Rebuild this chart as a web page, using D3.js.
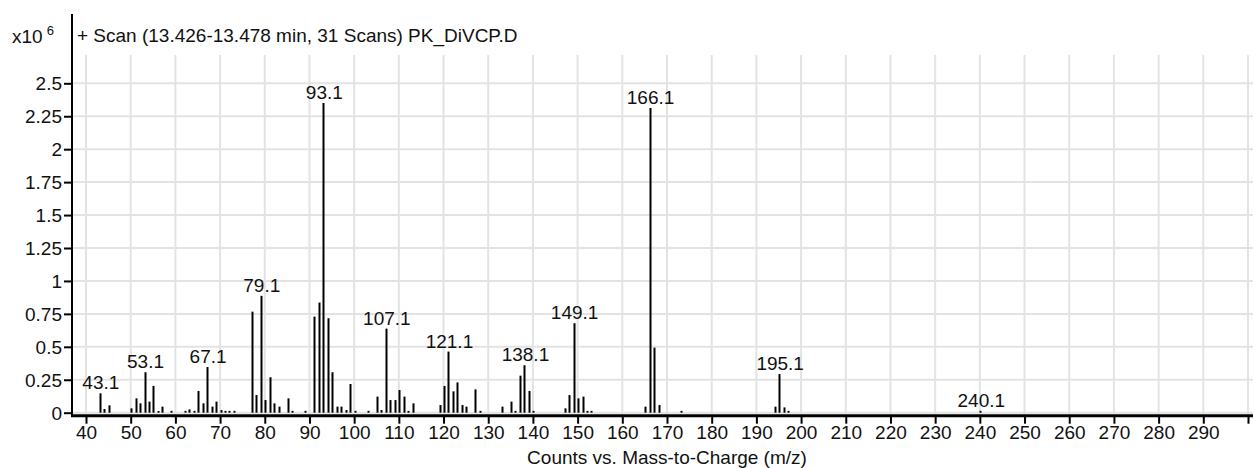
<!DOCTYPE html>
<html>
<head>
<meta charset="utf-8">
<script src="https://cdn.jsdelivr.net/npm/d3@7"></script>
<style>
  html, body { margin: 0; padding: 0; background: #fff; }
  svg { display: block; }
  text { font-family: "Liberation Sans", Arial, sans-serif; fill: #111; }
</style>
</head>
<body>
<svg id="chart" width="1253" height="468"></svg>
<script>
// m/z values of the spectrum peaks
const mz = [43.1,44.1,45.1,50.1,51.1,52.1,53.1,54.1,55.1,56.1,57.1,59.1,62.1,63.1,64.1,65.1,66.1,67.1,68.1,69.1,70.1,71.1,72.1,73.1,
  77.1,78.1,79.1,80.1,81.1,82.1,83.1,85.1,86.1,89.1,91.1,92.1,93.1,94.1,95.1,96.1,97.1,98.1,99.1,100.1,103.1,
  105.1,106.1,107.1,108.1,109.1,110.1,111.1,112.1,113.1,119.1,120.1,121.1,122.1,123.1,124.1,125.1,127.1,128.1,
  133.1,135.1,136.1,137.1,138.1,139.1,140.1,147.1,148.1,149.1,150.1,151.1,152.1,153.1,
  165.1,166.1,167.1,168.1,173.1,194.1,195.1,196.1,197.1,240.1];
// counts (x10^6)
const counts = [0.147,0.028,0.056,0.033,0.109,0.071,0.307,0.084,0.203,0.013,0.046,0.014,0.014,0.025,0.014,0.165,0.071,0.347,0.046,0.084,0.020,0.014,0.014,0.014,
  0.767,0.134,0.887,0.096,0.269,0.071,0.046,0.109,0.014,0.014,0.729,0.836,2.351,0.717,0.307,0.046,0.046,0.020,0.218,0.014,0.014,
  0.122,0.020,0.638,0.096,0.096,0.172,0.122,0.014,0.071,0.058,0.203,0.464,0.162,0.230,0.058,0.046,0.177,0.014,
  0.046,0.084,0.014,0.281,0.360,0.165,0.014,0.033,0.134,0.679,0.109,0.122,0.014,0.014,
  0.046,2.313,0.494,0.058,0.014,0.046,0.294,0.040,0.014,0.014];
// labelled peaks
const labelledPeaks = [43.1,53.1,67.1,79.1,93.1,107.1,121.1,138.1,149.1,166.1,195.1,240.1];
// axis ticks
const yTicks = [0,0.25,0.5,0.75,1,1.25,1.5,1.75,2,2.25,2.5];
const yTickLabels = ["0","0.25","0.5","0.75","1","1.25","1.5","1.75","2","2.25","2.5"];
const xTicks = d3.range(40, 301, 10);
const xTickLabels = xTicks.map(v => v < 300 ? String(v) : "");
const titleText = "+ Scan (13.426-13.478 min, 31 Scans) PK_DiVCP.D";
const xAxisTitle = "Counts vs. Mass-to-Charge (m/z)";

const FS = 19;
const svg = d3.select("#chart");
const plotLeft = 72, plotRight = 1253, plotTop = 55;
const x = d3.scaleLinear().domain([40, 300]).range([86, 1248]);
const y = d3.scaleLinear().domain([0, 2.5]).range([412.7, 83.3]);
const axisY = y(0) + 3;

// grid
const grid = svg.append("g");
grid.selectAll("line.v").data(xTicks).join("line")
  .attr("x1", d => x(d)).attr("x2", d => x(d))
  .attr("y1", plotTop).attr("y2", axisY)
  .attr("stroke", "#e3e3e3").attr("stroke-width", 2);
grid.selectAll("line.h").data(yTicks).join("line")
  .attr("x1", plotLeft).attr("x2", plotRight)
  .attr("y1", d => y(d)).attr("y2", d => y(d))
  .attr("stroke", "#e3e3e3").attr("stroke-width", 2);

// bars (sticks)
const data = mz.map((m, i) => ({ mz: m, v: counts[i] }));
svg.append("g").selectAll("line").data(data).join("line")
  .attr("x1", d => Math.round(x(d.mz)) + 0.5).attr("x2", d => Math.round(x(d.mz)) + 0.5)
  .attr("y1", y(0)).attr("y2", d => y(d.v))
  .attr("stroke", "#000").attr("stroke-width", 2);

// peak labels
svg.append("g").selectAll("text").data(data.filter(d => labelledPeaks.includes(d.mz))).join("text")
  .attr("x", d => x(d.mz) + 1).attr("y", d => y(d.v) - 4)
  .attr("text-anchor", "middle").attr("font-size", FS)
  .text(d => d.mz.toFixed(1));

// y axis
const yAxis = d3.axisLeft(y).tickValues(yTicks).tickFormat((d, i) => yTickLabels[i]).tickSize(8).tickPadding(2);
const gy = svg.append("g").attr("transform", `translate(${plotLeft},0)`).call(yAxis);
gy.select(".domain").remove();
gy.selectAll(".tick line").attr("stroke", "#000").attr("stroke-width", 2);
gy.selectAll(".tick text").attr("font-size", FS).attr("font-family", "Liberation Sans, Arial, sans-serif").attr("fill", "#111").attr("dy", "0.34em");
svg.append("line").attr("x1", plotLeft).attr("x2", plotLeft).attr("y1", 14).attr("y2", axisY + 1)
  .attr("stroke", "#000").attr("stroke-width", 2);

// x axis
const xAxis = d3.axisBottom(x).tickValues(xTicks).tickFormat((d, i) => xTickLabels[i]).tickSize(8).tickPadding(2);
const gx = svg.append("g").attr("transform", `translate(0,${axisY})`).call(xAxis);
gx.select(".domain").remove();
gx.selectAll(".tick line").attr("stroke", "#000").attr("stroke-width", 2);
gx.selectAll(".tick text").attr("font-size", FS).attr("font-family", "Liberation Sans, Arial, sans-serif").attr("fill", "#111");
svg.append("line").attr("x1", plotLeft - 1).attr("x2", plotRight).attr("y1", axisY).attr("y2", axisY)
  .attr("stroke", "#000").attr("stroke-width", 3);

// header
const hdr = svg.append("text").attr("x", 12).attr("y", 43).attr("font-size", FS);
hdr.append("tspan").text("x10");
hdr.append("tspan").attr("dx", 4).attr("dy", -8).attr("font-size", 13).text("6");
svg.append("text").attr("x", 77).attr("y", 42).attr("font-size", FS).text(titleText);

// x-axis title
svg.append("text").attr("x", 667).attr("y", 464).attr("text-anchor", "middle").attr("font-size", FS).text(xAxisTitle);
</script>
</body>
</html>
